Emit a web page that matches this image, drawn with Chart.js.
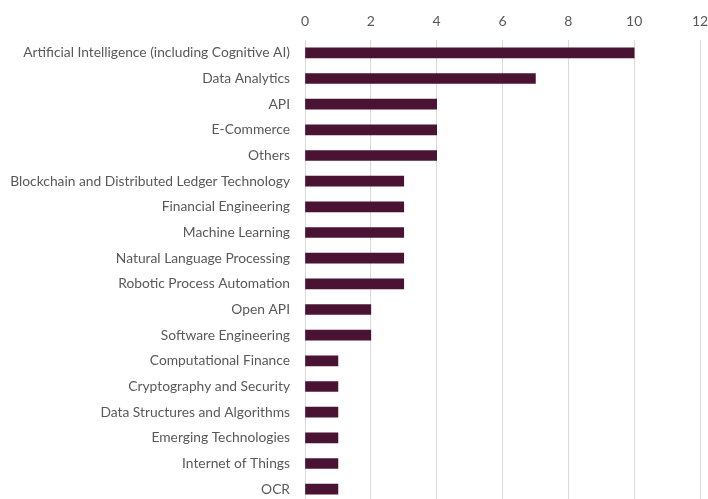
<!DOCTYPE html>
<html>
<head>
<meta charset="utf-8">
<script src="https://cdn.jsdelivr.net/npm/chart.js@4/dist/chart.umd.min.js"></script>
<style>
html,body{margin:0;padding:0;background:#fff;overflow:hidden;}
canvas{display:block;}
</style>
</head>
<body>
<canvas id="c" width="708" height="503"></canvas>
<script>
const categories = [
  "Artificial Intelligence (including Cognitive AI)",
  "Data Analytics",
  "API",
  "E-Commerce",
  "Others",
  "Blockchain and Distributed Ledger Technology",
  "Financial Engineering",
  "Machine Learning",
  "Natural Language Processing",
  "Robotic Process Automation",
  "Open API",
  "Software Engineering",
  "Computational Finance",
  "Cryptography and Security",
  "Data Structures and Algorithms",
  "Emerging Technologies",
  "Internet of Things",
  "OCR"
];
const counts = [10, 7, 4, 4, 4, 3, 3, 3, 3, 3, 2, 2, 1, 1, 1, 1, 1, 1];
const xTicks = [0, 2, 4, 6, 8, 10, 12];

const textColor = '#595959';
const gridColor = '#d9d9d9';

new Chart(document.getElementById('c'), {
  type: 'bar',
  data: {
    labels: categories,
    datasets: [{
      data: counts,
      backgroundColor: '#4b1333',
      borderWidth: 0,
      barThickness: 10
    }]
  },
  options: {
    indexAxis: 'y',
    responsive: false,
    devicePixelRatio: 1,
    animation: false,
    layout: { padding: { top: 13, right: 8, left: 0, bottom: 1 } },
    plugins: { legend: { display: false }, tooltip: { enabled: false }, title: { display: false } },
    scales: {
      x: {
        position: 'top',
        min: 0, max: 12,
        afterBuildTicks: (s) => { s.ticks = xTicks.map(v => ({ value: v })); },
        afterFit: (s) => { s.height = 27; s.paddingLeft = 0; s.paddingRight = 0; },
        ticks: { color: textColor, font: { family: 'Lato', size: 14 }, padding: 10, maxRotation: 0 },
        grid: { color: gridColor, drawTicks: false, lineWidth: 1 },
        border: { display: false }
      },
      y: {
        afterFit: (s) => { s.width = 305; s.paddingTop = 0; s.paddingBottom = 0; },
        ticks: { color: textColor, font: { family: 'Lato', size: 13.8 }, padding: 15, autoSkip: false },
        grid: { display: false, drawTicks: false },
        border: { display: true, color: gridColor }
      }
    }
  }
});
</script>
</body>
</html>
